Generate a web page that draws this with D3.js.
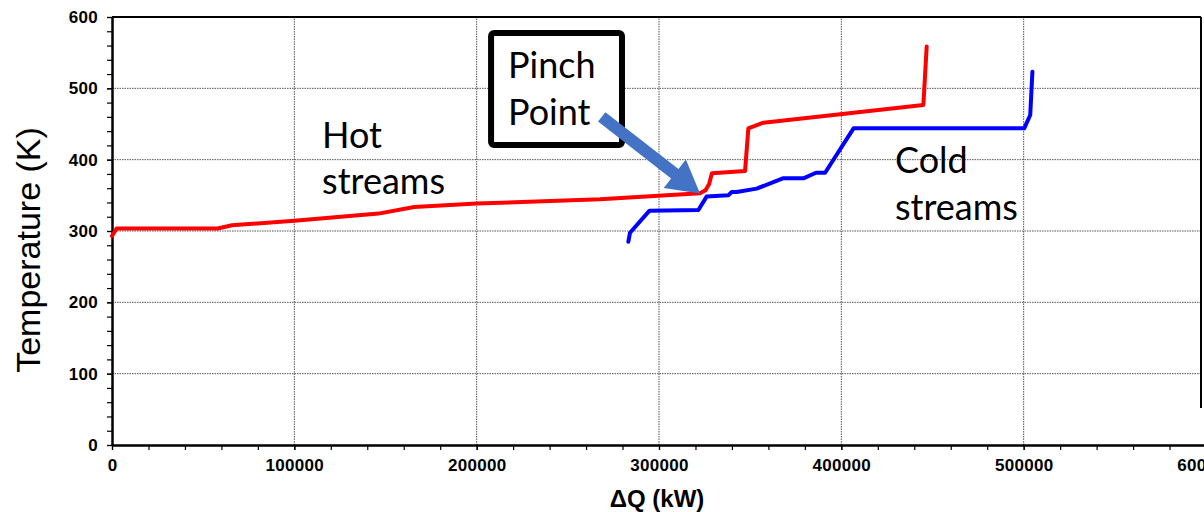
<!DOCTYPE html>
<html><head><meta charset="utf-8">
<script src="https://cdn.jsdelivr.net/npm/d3@7"></script>
<style>
html,body{margin:0;padding:0;background:#fff;overflow:hidden;}
svg{display:block;}
</style></head>
<body>
<svg id="chart" width="1204" height="512"></svg>
<script>
// ---- data (Q in kW, T in K) ----
const hotQ = [0, 2500, 58000, 65800, 100000, 146200, 165700, 200000, 267700, 322500, 325500, 327500, 329000, 347200, 349000, 357300, 445000, 446800];
const hotT = [293, 303.5, 303.5, 308, 314.5, 324.4, 333.6, 338.4, 344.5, 352.8, 357, 366, 381, 384.1, 443.9, 451.9, 476.7, 558.5];
const coldQ = [283200, 284100, 294800, 321600, 326100, 338000, 339900, 342600, 353600, 367900, 379200, 386100, 391100, 406700, 500300, 503600, 504800];
const coldT = [285, 297.6, 328.5, 329.5, 348.2, 350, 354.7, 354.7, 359.4, 373.8, 373.8, 381.7, 381.7, 443.9, 443.9, 462.6, 523.4];
const xTicks = [0, 100000, 200000, 300000, 400000, 500000, 600000];
const yTicks = [0, 100, 200, 300, 400, 500, 600];
const xMinor = d3.range(0, 600001, 20000);
const yMinor = d3.range(0, 601, 20);

const svg = d3.select("#chart");
svg.append("rect").attr("width",1204).attr("height",512).attr("fill","#fff");

const x = d3.scaleLinear().domain([0, 600000]).range([112, 1206]);
const y = d3.scaleLinear().domain([0, 600]).range([445, 17]);

// grid
const grid = svg.append("g");
grid.selectAll("line.gx").data(xTicks.filter(d => d > 0 && d < 600000)).enter().append("line")
  .attr("x1", d => x(d)).attr("x2", d => x(d)).attr("y1", y(0)).attr("y2", y(600))
  .attr("stroke", "#555").attr("stroke-width", 1).attr("stroke-dasharray", "1.5,1");
grid.selectAll("line.gy").data(yTicks.filter(d => d > 0 && d < 600)).enter().append("line")
  .attr("x1", x(0)).attr("x2", 1201).attr("y1", d => y(d)).attr("y2", d => y(d))
  .attr("stroke", "#555").attr("stroke-width", 1).attr("stroke-dasharray", "1.5,1");

// frame (top and right)
svg.append("line").attr("x1", x(0)).attr("x2", 1201).attr("y1", y(600)).attr("y2", y(600))
  .attr("stroke", "#000").attr("stroke-width", 2);
svg.append("line").attr("x1", 1201).attr("x2", 1201).attr("y1", y(600)).attr("y2", 408)
  .attr("stroke", "#000").attr("stroke-width", 2);

// axes
const fmt = d => String(d);
const xAxisMinor = d3.axisBottom(x).tickValues(xMinor).tickSize(5).tickSizeOuter(0).tickFormat("");
const xAxis = d3.axisBottom(x).tickValues(xTicks).tickSize(5).tickSizeOuter(0).tickPadding(9).tickFormat(fmt);
const yAxisMinor = d3.axisLeft(y).tickValues(yMinor).tickSize(5).tickSizeOuter(0).tickFormat("");
const yAxis = d3.axisLeft(y).tickValues(yTicks).tickSize(5).tickSizeOuter(0).tickPadding(9).tickFormat(fmt);

function styleAxis(g){
  g.select(".domain").attr("stroke","#000").attr("stroke-width",2);
  g.selectAll(".tick line").attr("stroke","#000").attr("stroke-width",1.2);
  g.selectAll("text").attr("fill","#000")
    .style("font-family","'Liberation Sans', Arial, sans-serif")
    .style("font-weight","bold").style("font-size","17px").style("letter-spacing","0.3px");
}
const gxm = svg.append("g").attr("transform",`translate(0,${y(0)})`).call(xAxisMinor); styleAxis(gxm);
const gx = svg.append("g").attr("transform",`translate(0,${y(0)})`).call(xAxis); styleAxis(gx);
const gym = svg.append("g").attr("transform",`translate(${x(0)},0)`).call(yAxisMinor); styleAxis(gym);
const gy = svg.append("g").attr("transform",`translate(${x(0)},0)`).call(yAxis); styleAxis(gy);

// axis titles
svg.append("text").attr("transform",`translate(40,${(y(0)+y(600))/2 + 19}) rotate(-90)`)
  .attr("text-anchor","middle")
  .style("font-family","'Liberation Sans', Arial, sans-serif").style("font-size","34px")
  .text("Temperature (K)");
svg.append("text").attr("x", 657).attr("y", 507).attr("text-anchor","middle")
  .style("font-family","'Liberation Sans', Arial, sans-serif").style("font-weight","bold").style("font-size","24px")
  .text("ΔQ (kW)");

// lines
const line = d3.line().x(d => x(d[0])).y(d => y(d[1]));
const hot = hotQ.map((q,i) => [q, hotT[i]]);
const cold = coldQ.map((q,i) => [q, coldT[i]]);
svg.append("path").datum(hot).attr("d", line).attr("fill","none").attr("stroke","#ff0000")
  .attr("stroke-width",4).attr("stroke-linejoin","round").attr("stroke-linecap","round");
svg.append("path").datum(cold).attr("d", line).attr("fill","none").attr("stroke","#0000ff")
  .attr("stroke-width",4).attr("stroke-linejoin","round").attr("stroke-linecap","round");

// annotations (positions in data units)
const annFont = "Lato, 'Open Sans', sans-serif";
function label(q, t, s){
  svg.append("text").attr("x", x(q)).attr("y", y(t))
    .style("font-family", annFont).style("font-size","36px").attr("fill","#000").text(s);
}
label(115200, 416.4, "Hot");
label(115200, 351.9, "streams");
label(429400, 381.3, "Cold");
label(429400, 315.4, "streams");

// pinch box
const boxQ0 = 207900, boxQ1 = 279700, boxT0 = 577.6, boxT1 = 420.6;
svg.append("rect").attr("x", x(boxQ0)).attr("y", y(boxT0))
  .attr("width", x(boxQ1) - x(boxQ0)).attr("height", y(boxT1) - y(boxT0))
  .attr("rx", 3).attr("fill","#fff").attr("stroke","#000").attr("stroke-width",6);
label(217200, 514.5, "Pinch");
label(217200, 448.6, "Point");

// arrow
const tail = [x(268600), y(460)], tip = [x(322500), y(352.6)];
const dx = tip[0]-tail[0], dy = tip[1]-tail[1], L = Math.hypot(dx,dy);
const ux = dx/L, uy = dy/L, nx = -uy, ny = ux;
const hw = 6, hh = 18, hl = 32;
const bx = tip[0]-ux*hl, by = tip[1]-uy*hl;
const pts = [
  [tail[0]+nx*hw, tail[1]+ny*hw],
  [bx+nx*hw, by+ny*hw],
  [bx+nx*hh, by+ny*hh],
  tip,
  [bx-nx*hh, by-ny*hh],
  [bx-nx*hw, by-ny*hw],
  [tail[0]-nx*hw, tail[1]-ny*hw]
];
svg.append("polygon").attr("points", pts.map(p => p.join(",")).join(" ")).attr("fill","#4472C4");
</script>
</body></html>
